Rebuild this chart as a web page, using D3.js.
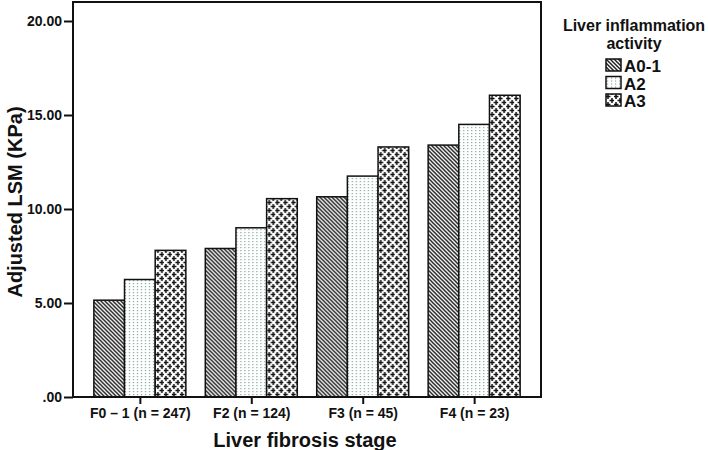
<!DOCTYPE html>
<html>
<head>
<meta charset="utf-8">
<script src="https://cdn.jsdelivr.net/npm/d3@7"></script>
<style>
  body { margin: 0; background: #fff; }
  text { font-family: 'Liberation Sans', Arial, sans-serif; font-weight: bold; fill: #111; }
  .tick text { font-family: 'Liberation Sans Narrow', 'Liberation Sans', Arial, sans-serif; font-size: 14px; }
</style>
</head>
<body>
<svg id="chart" width="708" height="450"></svg>
<script>
// chart values
var stages = ['F0 \u2013 1 (n = 247)', 'F2 (n = 124)', 'F3 (n = 45)', 'F4 (n = 23)'];
var activity = ['A0-1', 'A2', 'A3'];
var a01 = [5.15, 7.9, 10.65, 13.4];
var a2 = [6.25, 9.0, 11.75, 14.5];
var a3 = [7.8, 10.55, 13.3, 16.05];
var yTicks = [0, 5, 10, 15, 20];

var svg = d3.select('#chart');
var pLeft = 73, pRight = 541, pTop = 2, pBottom = 397;

var defs = svg.append('defs');

// hatch for A0-1
var p1 = defs.append('pattern').attr('id', 'pat0')
  .attr('patternUnits', 'userSpaceOnUse').attr('width', 4).attr('height', 4);
p1.append('rect').attr('width', 4).attr('height', 4).attr('fill', '#fff');
p1.append('path').attr('d', 'M-1,-1 L5,5 M-1,3 L1,5 M3,-1 L5,1')
  .attr('stroke', '#222').attr('stroke-width', 1.5);

// dotted columns for A2
var p2 = defs.append('pattern').attr('id', 'pat1')
  .attr('patternUnits', 'userSpaceOnUse').attr('width', 4).attr('height', 3);
p2.append('rect').attr('width', 4).attr('height', 3).attr('fill', '#fff');
p2.append('rect').attr('x', 1).attr('y', 1).attr('width', 1.2).attr('height', 1.2).attr('fill', '#7fa699');

// staggered crosses for A3
var p3 = defs.append('pattern').attr('id', 'pat2')
  .attr('patternUnits', 'userSpaceOnUse').attr('width', 8).attr('height', 8);
p3.append('rect').attr('width', 8).attr('height', 8).attr('fill', '#fff');
p3.append('path')
  .attr('d', 'M2,0 L2,5 M-0.5,2.5 L4.5,2.5 M6,4 L6,9 M3.5,6.5 L8.5,6.5 M6,-4 L6,1 M-2,4 L-2,9')
  .attr('stroke', '#111').attr('stroke-width', 1.5);

var x = d3.scalePoint().domain(stages).range([pLeft, pRight]).padding(0.6);
var y = d3.scaleLinear().domain([0, 20]).range([pBottom, pBottom - 4 * 94]);
var inner = d3.scaleBand().domain(activity).range([-46, 46]);

var series = [a01, a2, a3];

var groups = svg.append('g').selectAll('g')
  .data(stages).enter().append('g')
  .attr('transform', function(d) { return 'translate(' + x(d) + ',0)'; });

groups.selectAll('rect')
  .data(function(d, i) { return series.map(function(s, j) { return { k: activity[j], v: s[i], j: j }; }); })
  .enter().append('rect')
  .attr('x', function(d) { return inner(d.k); })
  .attr('width', inner.bandwidth())
  .attr('y', function(d) { return y(d.v); })
  .attr('height', function(d) { return pBottom - y(d.v); })
  .attr('fill', function(d) { return 'url(#pat' + d.j + ')'; })
  .attr('stroke', '#111').attr('stroke-width', 1.5);

// plot frame
svg.append('rect')
  .attr('x', pLeft).attr('y', pTop)
  .attr('width', pRight - pLeft).attr('height', pBottom - pTop)
  .attr('fill', 'none').attr('stroke', '#111').attr('stroke-width', 2);

// axes
var yAxis = svg.append('g').attr('transform', 'translate(' + pLeft + ',0)')
  .call(d3.axisLeft(y).tickValues(yTicks).tickSize(9).tickPadding(2)
    .tickFormat(function(d) { return d === 0 ? '.00' : d3.format('.2f')(d); }));
yAxis.select('.domain').remove();
yAxis.selectAll('line').attr('stroke', '#111').attr('stroke-width', 2);

var xAxis = svg.append('g').attr('transform', 'translate(0,' + pBottom + ')')
  .call(d3.axisBottom(x).tickSize(7).tickPadding(4));
xAxis.select('.domain').remove();
xAxis.selectAll('line').attr('stroke', '#111').attr('stroke-width', 2);

svg.append('text')
  .attr('transform', 'translate(15,' + 202 + ') rotate(-90)')
  .attr('text-anchor', 'middle').attr('dy', '0.35em')
  .style('font-size', '20px')
  .text('Adjusted LSM (KPa)');

svg.append('text')
  .attr('x', 305).attr('y', 447)
  .attr('text-anchor', 'middle')
  .style('font-size', '20px')
  .text('Liver fibrosis stage');

// legend
var legend = svg.append('g');
legend.append('text').attr('x', 634).attr('y', 31).attr('text-anchor', 'middle')
  .style('font-size', '16px').text('Liver inflammation');
legend.append('text').attr('x', 634).attr('y', 49).attr('text-anchor', 'middle')
  .style('font-size', '16px').text('activity');

var items = legend.selectAll('g.item').data(activity).enter().append('g')
  .attr('class', 'item')
  .attr('transform', function(d, i) { return 'translate(606,' + (59 + i * 17.5) + ')'; });
items.append('rect').attr('width', 15).attr('height', 12)
  .attr('fill', function(d, i) { return 'url(#pat' + i + ')'; })
  .attr('stroke', '#111').attr('stroke-width', 1.5);
items.append('text').attr('x', 18).attr('y', 13)
  .style('font-size', '17px')
  .text(function(d) { return d; });
</script>
</body>
</html>
